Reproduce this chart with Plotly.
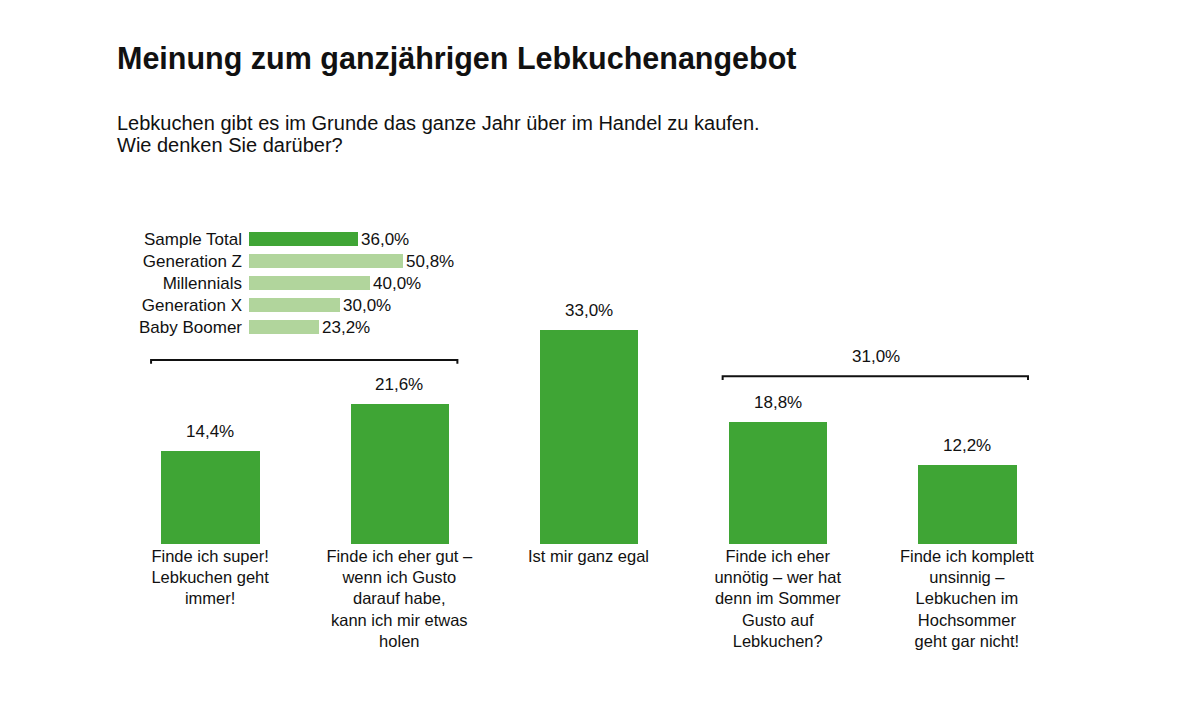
import plotly.graph_objects as go

# ---- data ----
categories = [
    "Finde ich super!<br>Lebkuchen geht<br>immer!",
    "Finde ich eher gut –<br>wenn ich Gusto<br>darauf habe,<br>kann ich mir etwas<br>holen",
    "Ist mir ganz egal",
    "Finde ich eher<br>unnötig – wer hat<br>denn im Sommer<br>Gusto auf<br>Lebkuchen?",
    "Finde ich komplett<br>unsinnig –<br>Lebkuchen im<br>Hochsommer<br>geht gar nicht!",
]
values = [14.4, 21.6, 33.0, 18.8, 12.2]

groups = ["Sample Total", "Generation Z", "Millennials", "Generation X", "Baby Boomer"]
group_values = [36.0, 50.8, 40.0, 30.0, 23.2]

title = "Meinung zum ganzjährigen Lebkuchenangebot"
subtitle_lines = [
    "Lebkuchen gibt es im Grunde das ganze Jahr über im Handel zu kaufen.",
    "Wie denken Sie darüber?",
]

GREEN = "#3fa535"
LIGHT = "#b1d59c"
FONT = "Liberation Sans, Arial, sans-serif"

W, H = 1203, 725
OFF = 8  # page body margin


def fx(px):
    return (px - OFF) / W


def fy(py):
    return 1 - (py - OFF) / H


def pct(v):
    return f"{v:.1f}".replace(".", ",") + "%"


xpos = list(range(len(categories)))

fig = go.Figure()

# main bars
fig.add_trace(go.Bar(
    x=xpos, y=values, width=0.52,
    marker=dict(color=GREEN, line=dict(width=0)),
    xaxis="x", yaxis="y", showlegend=False, hoverinfo="skip",
))

# inset bars
bar_colors = [GREEN] + [LIGHT] * (len(groups) - 1)
fig.add_trace(go.Bar(
    x=group_values, y=groups, orientation="h", width=0.68,
    marker=dict(color=bar_colors, line=dict(width=0)),
    text=[pct(v) for v in group_values],
    textposition="outside", constraintext="none", cliponaxis=False,
    textfont=dict(size=17, color="#111", family=FONT),
    xaxis="x2", yaxis="y2", showlegend=False, hoverinfo="skip",
))

annotations = []
# value labels on main bars
for x, v in zip(xpos, values):
    annotations.append(dict(
        x=x, y=v, xref="x", yref="y", text=pct(v),
        showarrow=False, yanchor="bottom", yshift=8,
        font=dict(size=17, color="#111", family=FONT),
    ))

# subtitle
for i, line in enumerate(subtitle_lines):
    annotations.append(dict(
        x=fx(117), y=fy(123 + 22 * i), xref="paper", yref="paper",
        text=line, showarrow=False, xanchor="left", yanchor="middle",
        xshift=-2,
        font=dict(size=20, color="#111", family=FONT),
    ))

# bracket label (sum of last two categories)
right_sum = values[3] + values[4]
annotations.append(dict(
    x=3.52, y=29.0, xref="x", yref="y", text=pct(right_sum),
    showarrow=False, font=dict(size=17, color="#111", family=FONT),
))


def bracket(x0, x1, y, dy):
    return dict(
        type="path", xref="x", yref="y",
        path=f"M {x0},{y - dy} L {x0},{y} L {x1},{y} L {x1},{y - dy}",
        line=dict(color="#111", width=2),
    )


shapes = [bracket(-0.312, 1.307, 28.4, 0.6), bracket(2.709, 4.323, 25.9, 0.6)]

fig.update_layout(
    width=W, height=H,
    margin=dict(l=0, r=0, t=0, b=0),
    paper_bgcolor="white", plot_bgcolor="white",
    font=dict(family=FONT, color="#111"),
    title=dict(
        text=f"<b>{title}</b>", x=fx(117), xanchor="left", xref="paper",
        y=fy(58), yanchor="middle", yref="paper",
        font=dict(size=30.5, color="#111", family=FONT),
    ),
    xaxis=dict(
        domain=[fx(115.5), fx(1061.5)], range=[-0.5, 4.5],
        tickmode="array", tickvals=xpos, ticktext=categories,
        showgrid=False, zeroline=False, showline=False, ticks="",
        tickfont=dict(size=16.5, color="#111", family=FONT),
    ),
    yaxis=dict(
        domain=[fy(544), fy(220)], range=[0, 50],
        showgrid=False, zeroline=False, showline=False, showticklabels=False,
    ),
    xaxis2=dict(
        domain=[fx(249), fx(249 + 60 * 3.03)], range=[0, 60], anchor="y2",
        showgrid=False, zeroline=False, showline=False, showticklabels=False,
    ),
    yaxis2=dict(
        domain=[fy(338), fy(228)], anchor="x2",
        autorange="reversed", type="category",
        showgrid=False, zeroline=False, showline=False, ticks="",
        ticklabelstandoff=6,
        tickfont=dict(size=17, color="#111", family=FONT),
    ),
    annotations=annotations,
    shapes=shapes,
    bargap=0,
)

fig.write_html("out.html")
